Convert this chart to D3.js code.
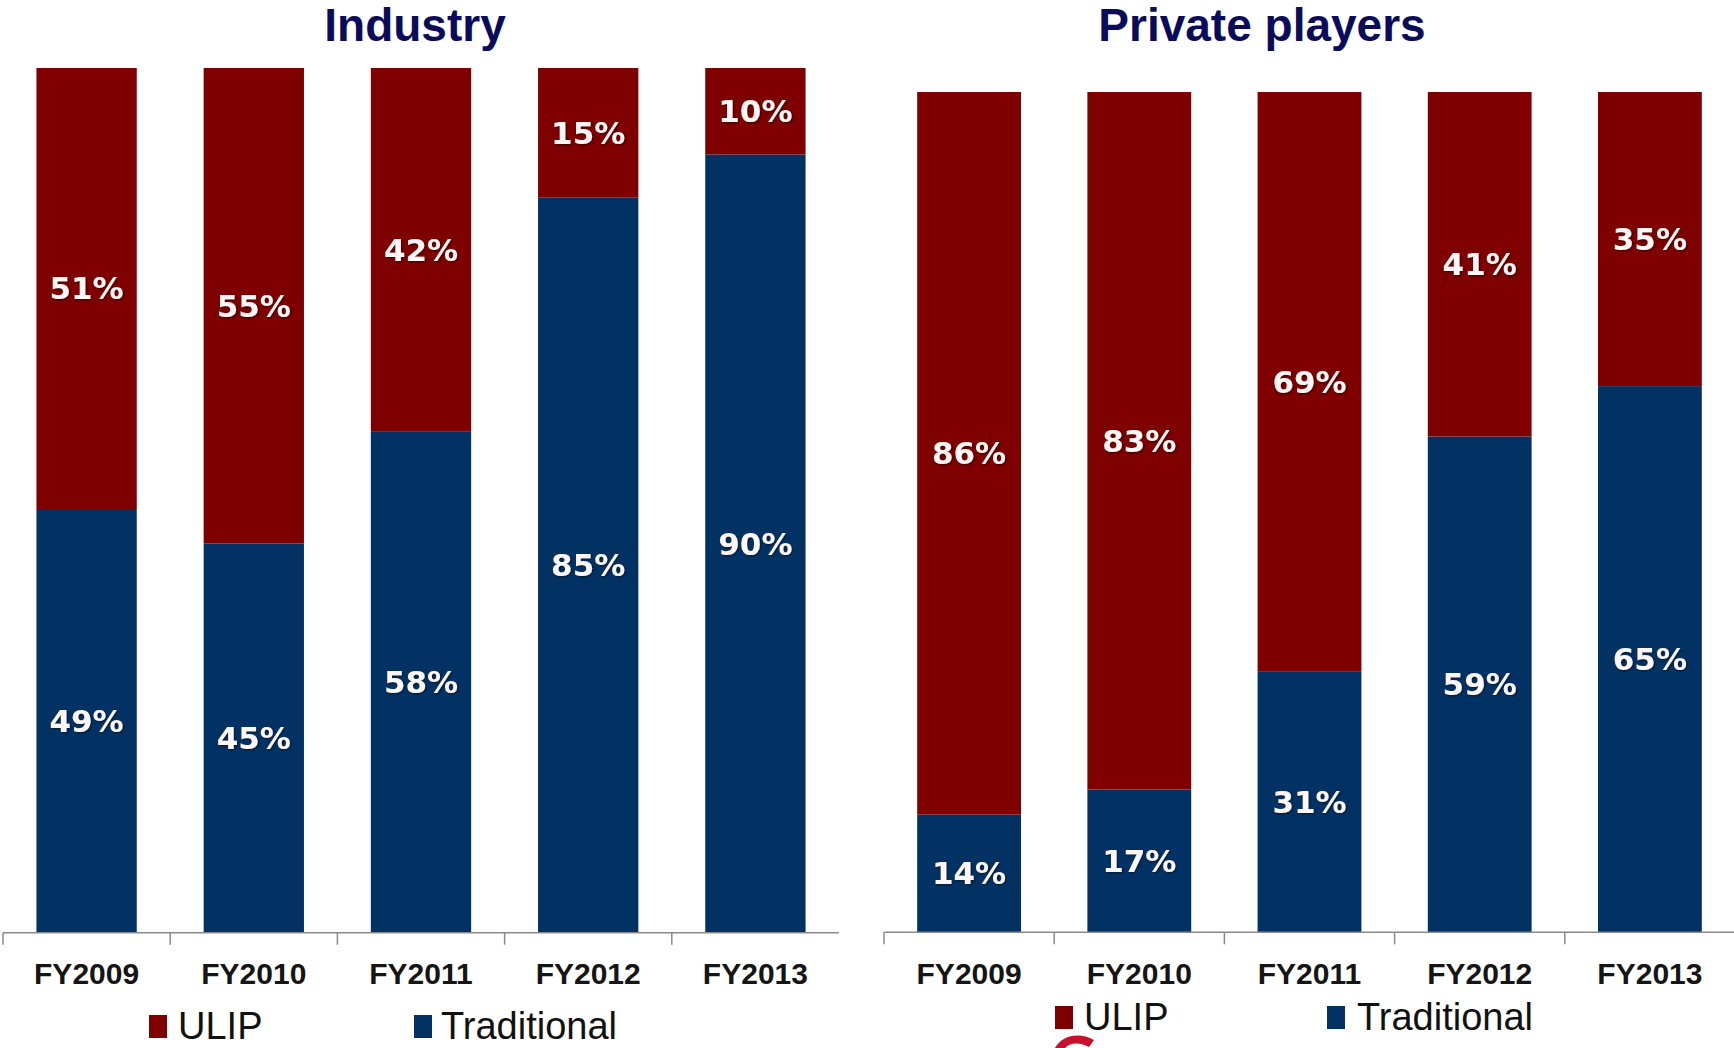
<!DOCTYPE html>
<html>
<head>
<meta charset="utf-8">
<script src="https://cdn.jsdelivr.net/npm/d3@7"></script>
<style>
  html, body { margin: 0; padding: 0; background: #ffffff; }
  svg { display: block; }
  .val { font-family: "DejaVu Sans", Verdana, sans-serif; font-weight: bold; font-size: 31px; fill: #fff6f6; }
  .cat { font-family: "Liberation Sans", Arial, sans-serif; font-weight: bold; font-size: 30px; fill: #151515; }
  .ttl { font-family: "Liberation Sans", Arial, sans-serif; font-weight: bold; font-size: 46px; fill: #0b0b5c; }
  .leg { font-family: "Liberation Sans", Arial, sans-serif; font-size: 38px; fill: #111; }
</style>
</head>
<body>
<script>
// Share of new business premium: ULIP vs Traditional products
const years = ["FY2009", "FY2010", "FY2011", "FY2012", "FY2013"];
const industryULIP = [51, 55, 42, 15, 10];
const industryTraditional = [49, 45, 58, 85, 90];
const privateULIP = [86, 83, 69, 41, 35];
const privateTraditional = [14, 17, 31, 59, 65];
const seriesNames = ["ULIP", "Traditional"];
const titles = ["Industry", "Private players"];

const colors = { ULIP: "#7e0000", Traditional: "#023264" };

const W = 1734, H = 1048;
const svg = d3.select("body").append("svg").attr("width", W).attr("height", H);

const defs = svg.append("defs");
const f = defs.append("filter").attr("id", "txtShadow").attr("x", "-20%").attr("y", "-20%").attr("width", "140%").attr("height", "140%");
f.append("feDropShadow").attr("dx", 1).attr("dy", 1).attr("stdDeviation", 1).attr("flood-color", "#000").attr("flood-opacity", 0.55);

function panel(cfg) {
  const rows = years.map((y, i) => ({ year: y, Traditional: cfg.trad[i], ULIP: cfg.ulip[i] }));
  const stack = d3.stack().keys(["Traditional", "ULIP"])(rows);

  const x = d3.scaleBand().domain(years).range(cfg.xRange)
    .paddingInner(cfg.pad).paddingOuter(cfg.pad / 2);
  const y = d3.scaleLinear().domain([0, 100]).range([cfg.base, cfg.top]);

  const g = svg.append("g");

  // stacked bars
  stack.forEach(layer => {
    g.append("g").selectAll("rect").data(layer).join("rect")
      .attr("x", d => x(d.data.year))
      .attr("width", x.bandwidth())
      .attr("y", d => y(d[1]))
      .attr("height", d => y(d[0]) - y(d[1]))
      .attr("fill", colors[layer.key]);
  });

  // value labels centred in each segment
  stack.forEach(layer => {
    g.append("g").selectAll("text").data(layer).join("text")
      .attr("class", "val")
      .attr("filter", "url(#txtShadow)")
      .attr("text-anchor", "middle")
      .attr("dominant-baseline", "central")
      .attr("x", d => x(d.data.year) + x.bandwidth() / 2)
      .attr("y", d => (y(d[0]) + y(d[1])) / 2)
      .text(d => (d[1] - d[0]) + "%");
  });

  // category axis: baseline with tick marks at band boundaries
  const step = x.step();
  const x0 = cfg.xRange[0];
  g.append("line")
    .attr("x1", x0).attr("x2", cfg.xRange[1])
    .attr("y1", cfg.base).attr("y2", cfg.base)
    .attr("stroke", "#8a8a8a").attr("stroke-width", 1.5);
  g.append("g").selectAll("line").data(d3.range(years.length)).join("line")
    .attr("x1", i => x0 + i * step).attr("x2", i => x0 + i * step)
    .attr("y1", cfg.base).attr("y2", cfg.base + 12)
    .attr("stroke", "#8a8a8a").attr("stroke-width", 1.5);

  g.append("g").selectAll("text").data(years).join("text")
    .attr("class", "cat")
    .attr("text-anchor", "middle")
    .attr("x", d => x(d) + x.bandwidth() / 2)
    .attr("y", 984)
    .text(d => d);

  // title
  g.append("text").attr("class", "ttl")
    .attr("text-anchor", "middle")
    .attr("x", cfg.titleX).attr("y", 41)
    .text(cfg.title);

  // legend
  const lg = g.append("g");
  cfg.legend.forEach((p, i) => {
    const name = seriesNames[i];
    lg.append("rect").attr("x", p.sx).attr("y", p.y - 11).attr("width", 18).attr("height", 23)
      .attr("fill", colors[name]);
    lg.append("text").attr("class", "leg")
      .attr("x", p.tx).attr("y", p.y + 13)
      .text(name);
  });
}

panel({
  title: titles[0], titleX: 415,
  ulip: industryULIP, trad: industryTraditional,
  xRange: [3, 839], pad: 0.4, top: 68, base: 932.7,
  legend: [{ sx: 149, tx: 178, y: 1026 }, { sx: 414, tx: 441, y: 1026 }]
});

panel({
  title: titles[1], titleX: 1262,
  ulip: privateULIP, trad: privateTraditional,
  xRange: [884, 1735], pad: 0.39, top: 92, base: 932.3,
  legend: [{ sx: 1055, tx: 1084, y: 1017 }, { sx: 1327, tx: 1357, y: 1017 }]
});

// top of a red emblem peeking in at the bottom edge
svg.append("path")
  .attr("d", "M1054,1050 C1060,1036 1078,1031 1094,1040 L1089,1047 C1078,1041 1067,1043 1064,1050 Z")
  .attr("fill", "#c8102e");
</script>
</body>
</html>
